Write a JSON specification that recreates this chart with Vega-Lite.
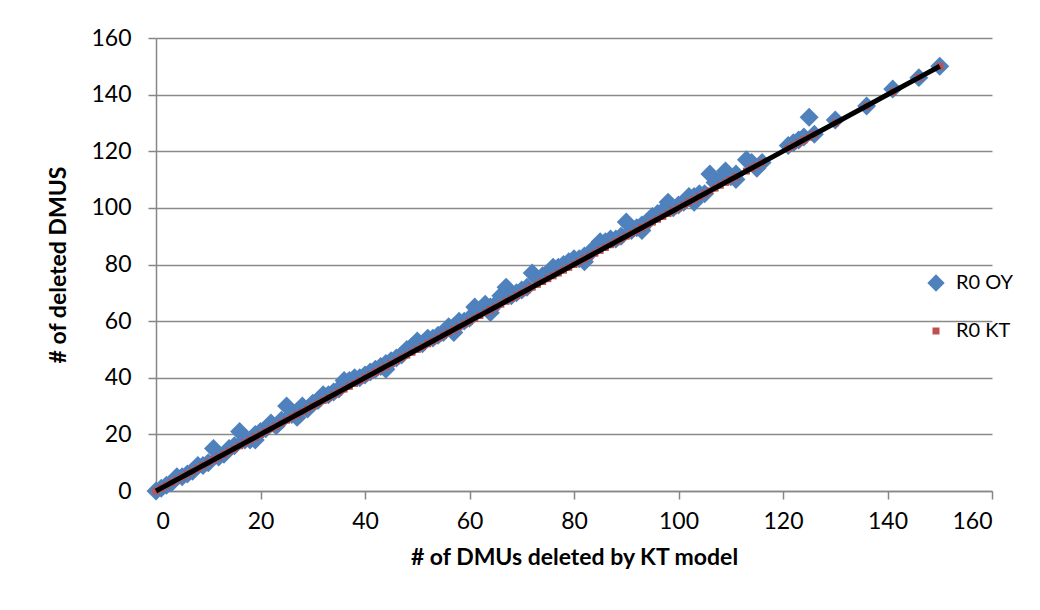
{
  "$schema": "https://vega.github.io/schema/vega-lite/v6.json",
  "autosize": "none",
  "width": 836,
  "height": 453,
  "padding": {"left": 156, "top": 38, "right": 48, "bottom": 119},
  "background": "white",
  "config": {
    "font": "Lato",
    "view": {"stroke": null},
    "axis": {
      "labelFont": "Lato",
      "titleFont": "Lato",
      "labelFontSize": 23,
      "titleFontSize": 23,
      "labelColor": "#000000",
      "titleColor": "#000000",
      "titleFontWeight": "bold",
      "domainColor": "#868686",
      "domainWidth": 1.5,
      "tickColor": "#868686",
      "tickWidth": 1.5,
      "tickSize": 8,
      "gridColor": "#8a8a8a",
      "gridWidth": 1.5
    },
    "legend": {
      "labelFont": "Lato",
      "labelFontSize": 20,
      "labelColor": "#000000",
      "labelOffset": 10,
      "padding": 0,
      "orient": "none"
    }
  },
  "data": {
    "values": [
      {"kt": 0, "oy": 0}, {"kt": 1, "oy": 1}, {"kt": 2, "oy": 2}, {"kt": 3, "oy": 3},
      {"kt": 4, "oy": 5}, {"kt": 5, "oy": 5}, {"kt": 6, "oy": 6}, {"kt": 7, "oy": 7},
      {"kt": 8, "oy": 9}, {"kt": 9, "oy": 9}, {"kt": 10, "oy": 10}, {"kt": 11, "oy": 15},
      {"kt": 12, "oy": 12}, {"kt": 13, "oy": 13}, {"kt": 14, "oy": 15}, {"kt": 15, "oy": 16},
      {"kt": 16, "oy": 21}, {"kt": 17, "oy": 18}, {"kt": 18, "oy": 18}, {"kt": 19, "oy": 20},
      {"kt": 19, "oy": 18}, {"kt": 20, "oy": 21}, {"kt": 21, "oy": 22}, {"kt": 22, "oy": 24},
      {"kt": 23, "oy": 23}, {"kt": 24, "oy": 25}, {"kt": 25, "oy": 30}, {"kt": 26, "oy": 27},
      {"kt": 27, "oy": 28}, {"kt": 27, "oy": 26}, {"kt": 28, "oy": 30}, {"kt": 29, "oy": 29},
      {"kt": 30, "oy": 31}, {"kt": 31, "oy": 32}, {"kt": 32, "oy": 34}, {"kt": 33, "oy": 34},
      {"kt": 34, "oy": 35}, {"kt": 35, "oy": 36}, {"kt": 36, "oy": 39}, {"kt": 37, "oy": 39},
      {"kt": 38, "oy": 40}, {"kt": 39, "oy": 40}, {"kt": 40, "oy": 41}, {"kt": 41, "oy": 42},
      {"kt": 42, "oy": 43}, {"kt": 43, "oy": 44}, {"kt": 44, "oy": 45}, {"kt": 44, "oy": 43},
      {"kt": 45, "oy": 46}, {"kt": 46, "oy": 47}, {"kt": 47, "oy": 48}, {"kt": 48, "oy": 50},
      {"kt": 49, "oy": 51}, {"kt": 50, "oy": 53}, {"kt": 51, "oy": 52}, {"kt": 52, "oy": 54},
      {"kt": 53, "oy": 54}, {"kt": 54, "oy": 55}, {"kt": 55, "oy": 56}, {"kt": 56, "oy": 58},
      {"kt": 57, "oy": 58}, {"kt": 57, "oy": 56}, {"kt": 58, "oy": 60}, {"kt": 59, "oy": 60},
      {"kt": 60, "oy": 61}, {"kt": 61, "oy": 65}, {"kt": 62, "oy": 64}, {"kt": 63, "oy": 66},
      {"kt": 64, "oy": 65}, {"kt": 64, "oy": 63}, {"kt": 65, "oy": 66}, {"kt": 66, "oy": 69},
      {"kt": 67, "oy": 72}, {"kt": 68, "oy": 69}, {"kt": 69, "oy": 70}, {"kt": 70, "oy": 71},
      {"kt": 71, "oy": 72}, {"kt": 72, "oy": 77}, {"kt": 73, "oy": 75}, {"kt": 74, "oy": 76},
      {"kt": 75, "oy": 77}, {"kt": 76, "oy": 79}, {"kt": 77, "oy": 79}, {"kt": 78, "oy": 80},
      {"kt": 79, "oy": 81}, {"kt": 80, "oy": 82}, {"kt": 81, "oy": 82}, {"kt": 82, "oy": 83},
      {"kt": 82, "oy": 81}, {"kt": 83, "oy": 84}, {"kt": 84, "oy": 86}, {"kt": 85, "oy": 88},
      {"kt": 86, "oy": 88}, {"kt": 87, "oy": 89}, {"kt": 88, "oy": 89}, {"kt": 89, "oy": 90},
      {"kt": 90, "oy": 95}, {"kt": 91, "oy": 92}, {"kt": 92, "oy": 93}, {"kt": 93, "oy": 94},
      {"kt": 93, "oy": 92}, {"kt": 94, "oy": 95}, {"kt": 95, "oy": 97}, {"kt": 96, "oy": 98},
      {"kt": 97, "oy": 99}, {"kt": 98, "oy": 102}, {"kt": 99, "oy": 100}, {"kt": 100, "oy": 101},
      {"kt": 101, "oy": 102}, {"kt": 102, "oy": 104}, {"kt": 103, "oy": 104}, {"kt": 103, "oy": 102},
      {"kt": 104, "oy": 105}, {"kt": 105, "oy": 105}, {"kt": 106, "oy": 112}, {"kt": 107, "oy": 109},
      {"kt": 108, "oy": 110}, {"kt": 109, "oy": 113}, {"kt": 110, "oy": 111}, {"kt": 111, "oy": 112},
      {"kt": 111, "oy": 110}, {"kt": 113, "oy": 117}, {"kt": 114, "oy": 116}, {"kt": 115, "oy": 114},
      {"kt": 116, "oy": 116}, {"kt": 121, "oy": 122}, {"kt": 122, "oy": 123}, {"kt": 123, "oy": 124},
      {"kt": 124, "oy": 125}, {"kt": 125, "oy": 132}, {"kt": 126, "oy": 126}, {"kt": 130, "oy": 131},
      {"kt": 136, "oy": 136}, {"kt": 141, "oy": 142}, {"kt": 146, "oy": 146}, {"kt": 150, "oy": 150}
    ]
  },
  "layer": [
    {
      "mark": {"type": "point", "filled": true, "opacity": 1, "size": 360, "color": "#4F81BD"},
      "encoding": {
        "x": {
          "field": "kt", "type": "quantitative",
          "scale": {"domain": [0, 160], "nice": false, "zero": true},
          "axis": {
            "values": [0, 20, 40, 60, 80, 100, 120, 140, 160],
            "grid": false,
            "labelPadding": 11,
            "title": "# of DMUs deleted by KT model",
            "titlePadding": 13
          }
        },
        "y": {
          "field": "oy", "type": "quantitative",
          "scale": {"domain": [0, 160], "nice": false, "zero": true},
          "axis": {
            "values": [0, 20, 40, 60, 80, 100, 120, 140, 160],
            "grid": true,
            "labelPadding": 17,
            "title": "# of deleted  DMUS",
            "titlePadding": 20
          }
        },
        "shape": {
          "datum": "R0 OY",
          "scale": {"domain": ["R0 OY"], "range": ["diamond"]},
          "legend": {
            "title": null,
            "legendX": 770,
            "legendY": 235,
            "symbolSize": 300,
            "symbolFillColor": "#4F81BD",
            "symbolStrokeWidth": 0
          }
        }
      }
    },
    {
      "mark": {"type": "point", "filled": true, "opacity": 1, "size": 49, "shape": "square"},
      "encoding": {
        "x": {"field": "kt", "type": "quantitative"},
        "y": {"field": "kt", "type": "quantitative"},
        "color": {
          "datum": "R0 KT",
          "scale": {"domain": ["R0 KT"], "range": ["#C0504D"]},
          "legend": {
            "title": null,
            "legendX": 770,
            "legendY": 283,
            "symbolSize": 49,
            "symbolType": "square",
            "symbolStrokeWidth": 0
          }
        }
      }
    },
    {
      "mark": {"type": "line", "color": "#000000", "strokeWidth": 5},
      "encoding": {
        "x": {"field": "kt", "type": "quantitative"},
        "y": {"field": "kt", "type": "quantitative"}
      }
    }
  ]
}
